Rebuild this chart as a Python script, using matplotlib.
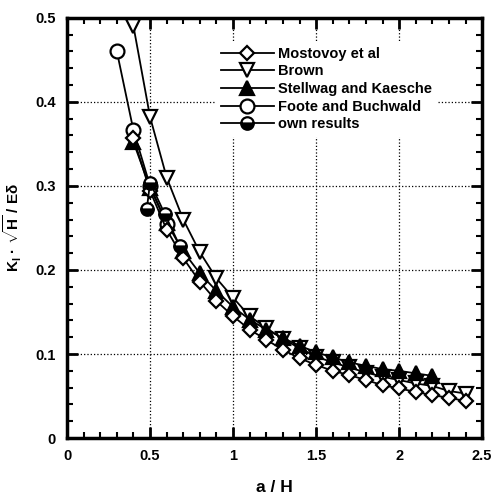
import numpy as np
import matplotlib
matplotlib.use('Agg')
import matplotlib.pyplot as pl
from matplotlib.ticker import MultipleLocator

output_fn = 'out.png'

pl.rcParams['font.family'] = ['Liberation Sans', 'DejaVu Sans']
pl.rcParams['font.weight'] = 'bold'
pl.rcParams['mathtext.fontset'] = 'custom'
pl.rcParams['mathtext.rm'] = 'Liberation Sans:bold'
pl.rcParams['mathtext.it'] = 'Liberation Sans:bold'
pl.rcParams['mathtext.bf'] = 'Liberation Sans:bold'

# Mostovoy et al (open diamonds)
mostovoy_x = [0.4, 0.5, 0.6, 0.7, 0.8, 0.9, 1.0, 1.1, 1.2, 1.3, 1.4, 1.5, 1.6, 1.7,
              1.8, 1.9, 2.0, 2.1, 2.2, 2.3, 2.4]
mostovoy_y = [0.357, 0.294, 0.248, 0.214, 0.186, 0.163, 0.145, 0.129, 0.117, 0.105,
              0.095, 0.087, 0.080, 0.075, 0.069, 0.063, 0.059, 0.055, 0.051, 0.048, 0.044]

# Brown (open down triangles)
brown_x = [0.4, 0.5, 0.6, 0.7, 0.8, 0.9, 1.0, 1.1, 1.2, 1.3, 1.4, 1.5, 1.6, 1.7,
           1.8, 1.9, 2.0, 2.1, 2.2, 2.3, 2.4]
brown_y = [0.490, 0.382, 0.310, 0.260, 0.221, 0.190, 0.167, 0.145, 0.131, 0.118,
           0.107, 0.097, 0.090, 0.084, 0.078, 0.073, 0.069, 0.065, 0.062, 0.056, 0.053]

# Stellwag and Kaesche (filled triangles)
stellwag_x = [0.4, 0.5, 0.6, 0.7, 0.8, 0.9, 1.0, 1.1, 1.2, 1.3, 1.4, 1.5, 1.6, 1.7,
              1.8, 1.9, 2.0, 2.1, 2.2]
stellwag_y = [0.352, 0.298, 0.256, 0.222, 0.196, 0.175, 0.156, 0.141, 0.129, 0.119,
              0.110, 0.102, 0.096, 0.090, 0.086, 0.082, 0.080, 0.077, 0.074]

# Foote and Buchwald (open circles)
foote_x = [0.3, 0.4, 0.5, 0.6]
foote_y = [0.460, 0.366, 0.300, 0.255]

# own results (half filled circles)
own_x = [0.48, 0.5, 0.59, 0.68]
own_y = [0.272, 0.304, 0.266, 0.228]

x_ticks = [0, 0.5, 1, 1.5, 2, 2.5]
x_ticklabels = ['0', '0.5', '1', '1.5', '2', '2.5']
y_ticks = [0, 0.1, 0.2, 0.3, 0.4, 0.5]
y_ticklabels = ['0', '0.1', '0.2', '0.3', '0.4', '0.5']


fig = pl.figure(figsize=(4.93, 4.95), dpi=100)
ax = fig.add_axes([0.136, 0.115, 0.842, 0.849])

lw = 1.3
mew = 1.6
pl.plot(mostovoy_x, mostovoy_y, '-', color='black', lw=lw, marker='D', ms=7.5,
        mfc='white', mec='black', mew=mew, label='Mostovoy et al', zorder=3)
pl.plot(brown_x, brown_y, '-', color='black', lw=lw, marker='v', ms=10,
        mfc='white', mec='black', mew=mew, label='Brown', zorder=2)
pl.plot(stellwag_x, stellwag_y, '-', color='black', lw=lw, marker='^', ms=10,
        mfc='black', mec='black', mew=mew, label='Stellwag and Kaesche', zorder=2)
pl.plot(foote_x, foote_y, '-', color='black', lw=lw, marker='o', ms=10,
        mfc='white', mec='black', mew=mew, label='Foote and Buchwald', zorder=2)
pl.plot(own_x, own_y, '-', color='black', lw=lw, marker='o', ms=9,
        fillstyle='bottom', mfc='black', mfcalt='white', mec='black', mew=mew,
        label='own results', zorder=4)

# Aesthetics
pl.xlim(0, 2.5)
pl.ylim(0, 0.5)
ax.set_xticks(x_ticks)
ax.set_xticklabels(x_ticklabels, fontweight='bold')
ax.set_yticks(y_ticks)
ax.set_yticklabels(y_ticklabels, fontweight='bold')
ax.xaxis.set_minor_locator(MultipleLocator(0.1))
ax.yaxis.set_minor_locator(MultipleLocator(0.02))
ax.tick_params(which='both', direction='in', top=True, right=True,
               labelsize=10.5, pad=8)
ax.tick_params(which='major', length=8, width=2)
ax.tick_params(which='minor', length=4, width=1.5)
for s in ax.spines.values():
    s.set_linewidth(2.5)
ax.grid(which='major', color='black', linestyle=':', lw=0.9)

pl.xlabel('a / H', fontsize=12.5, fontweight='bold', labelpad=12)
pl.ylabel('K$_\\mathregular{I}$ \u00b7 $\\mathregular{\\sqrt{H}}$ / E\u03b4',
          fontsize=11, fontweight='bold', labelpad=8)

# Legend with white background hiding the grid behind it
leg = pl.legend(loc='upper left', bbox_to_anchor=(0.357, 0.945), frameon=True,
                handlelength=3.6, handletextpad=0.3, labelspacing=0.25,
                borderaxespad=0, borderpad=0.4, fancybox=False,
                prop={'size': 10.5, 'weight': 'bold'})
leg.get_frame().set_facecolor('white')
leg.get_frame().set_edgecolor('none')
leg.get_frame().set_alpha(1)

pl.savefig(output_fn, dpi=100)
pl.close()
